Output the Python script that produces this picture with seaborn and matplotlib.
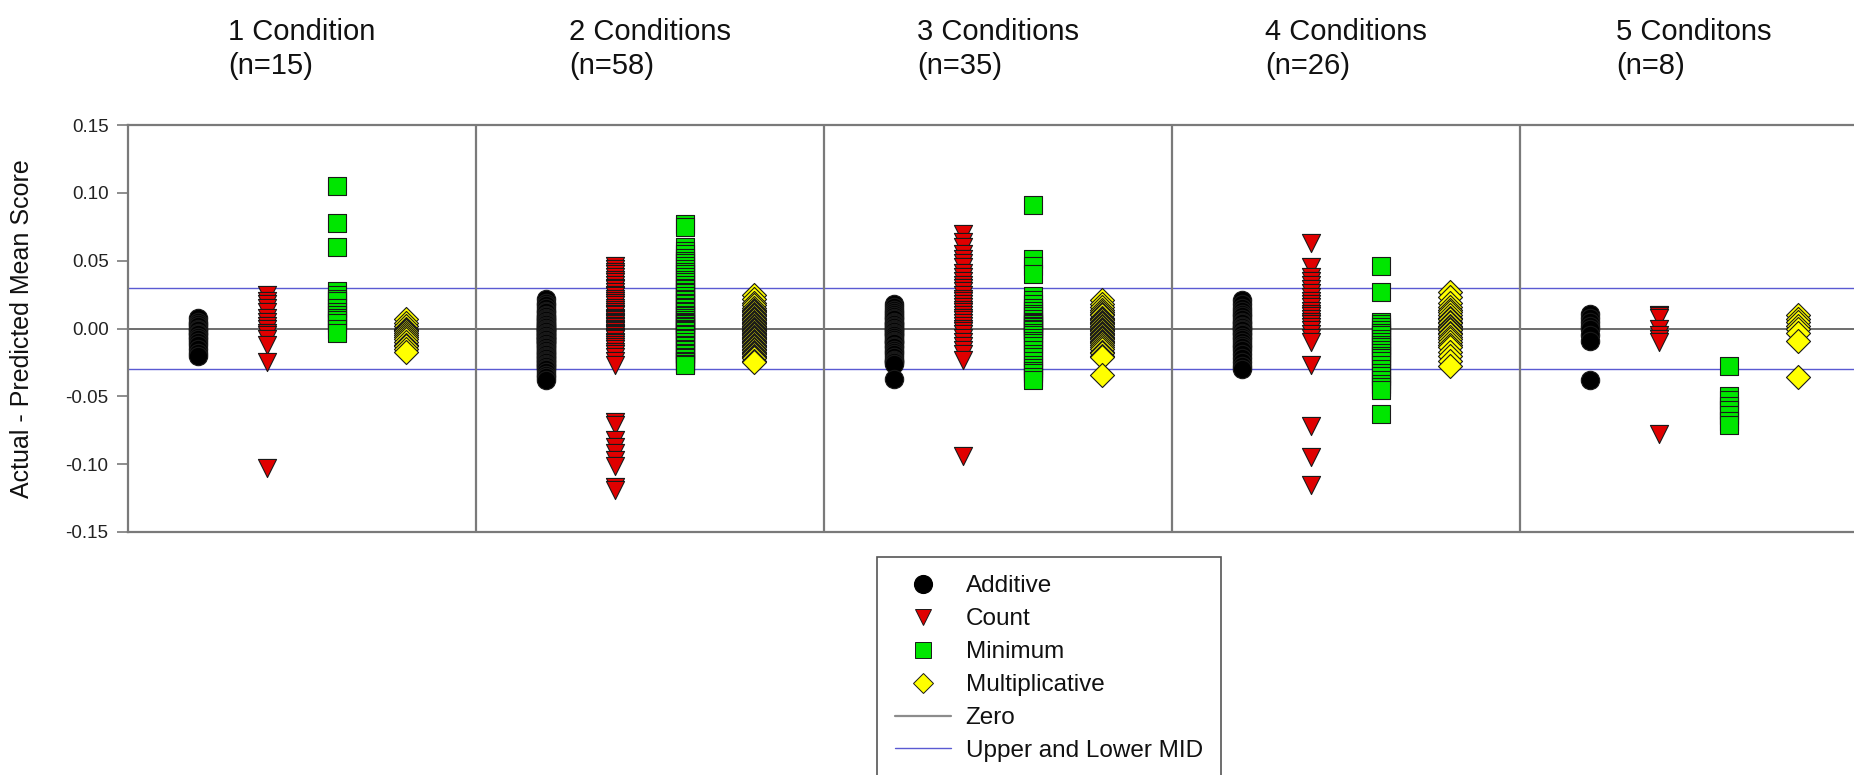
import matplotlib
matplotlib.use("Agg")
import matplotlib.pyplot as plt
import matplotlib.transforms as mtransforms
from matplotlib.lines import Line2D
import pandas as pd
import seaborn as sns

# ---------------------------------------------------------------- data
panels = ["1 Condition", "2 Conditions", "3 Conditions", "4 Conditions", "5 Conditons"]
panel_n = [15, 58, 35, 26, 8]
methods = ["Additive", "Count", "Minimum", "Multiplicative"]

additive = [
    [0.008, 0.005, 0.003, 0.002, 0.000, -0.001, -0.003, -0.004, -0.006, -0.008,
     -0.010, -0.012, -0.015, -0.018, -0.020],
    [0.022, 0.019, 0.017, 0.015, 0.013, 0.012, 0.010, 0.009, 0.008, 0.007,
     0.006, 0.005, 0.004, 0.003, 0.002, 0.002, 0.001, 0.000, 0.000, -0.001,
     -0.002, -0.002, -0.003, -0.004, -0.004, -0.005, -0.006, -0.006, -0.007, -0.008,
     -0.008, -0.009, -0.010, -0.010, -0.011, -0.012, -0.013, -0.014, -0.015, -0.016,
     -0.017, -0.018, -0.019, -0.020, -0.021, -0.022, -0.023, -0.024, -0.025, -0.026,
     -0.027, -0.028, -0.029, -0.030, -0.032, -0.034, -0.036, -0.038],
    [0.018, 0.016, 0.014, 0.012, 0.011, 0.009, 0.008, 0.007, 0.005, 0.004,
     0.003, 0.002, 0.001, 0.000, -0.001, -0.002, -0.003, -0.004, -0.005, -0.006,
     -0.008, -0.009, -0.010, -0.011, -0.013, -0.014, -0.016, -0.017, -0.019, -0.021,
     -0.023, -0.024, -0.025, -0.026, -0.037],
    [0.021, 0.018, 0.015, 0.013, 0.011, 0.009, 0.007, 0.005, 0.004, 0.002,
     0.001, 0.000, -0.001, -0.003, -0.004, -0.006, -0.008, -0.010, -0.012, -0.014,
     -0.016, -0.019, -0.022, -0.025, -0.028, -0.030],
    [0.011, 0.008, 0.005, 0.002, 0.000, -0.005, -0.009, -0.038],
]

count = [
    [0.025, 0.020, 0.018, 0.015, 0.012, 0.008, 0.005, 0.002, 0.000, -0.003,
     -0.005, -0.008, -0.012, -0.025, -0.103],
    [0.046, 0.044, 0.042, 0.040, 0.038, 0.036, 0.034, 0.032, 0.030, 0.029,
     0.027, 0.025, 0.024, 0.022, 0.020, 0.019, 0.017, 0.015, 0.014, 0.012,
     0.011, 0.010, 0.008, 0.007, 0.006, 0.005, 0.004, 0.003, 0.002, 0.001,
     0.000, -0.001, -0.002, -0.003, -0.004, -0.005, -0.006, -0.007, -0.008, -0.010,
     -0.011, -0.012, -0.014, -0.015, -0.017, -0.019, -0.021, -0.024, -0.027,
     -0.069, -0.071, -0.082, -0.087, -0.092, -0.097, -0.101, -0.117, -0.119],
    [0.070, 0.064, 0.060, 0.055, 0.051, 0.048, 0.045, 0.041, 0.038, 0.035,
     0.032, 0.030, 0.028, 0.025, 0.022, 0.020, 0.018, 0.016, 0.014, 0.012,
     0.010, 0.008, 0.006, 0.004, 0.002, 0.000, -0.002, -0.004, -0.007, -0.010,
     -0.013, -0.016, -0.019, -0.023, -0.094],
    [0.063, 0.045, 0.038, 0.035, 0.032, 0.029, 0.026, 0.023, 0.020, 0.018,
     0.016, 0.013, 0.011, 0.009, 0.007, 0.005, 0.003, 0.001, -0.001, -0.004,
     -0.007, -0.010, -0.027, -0.072, -0.095, -0.115],
    [0.010, 0.009, 0.008, 0.000, -0.005, -0.008, -0.010, -0.078],
]

minimum = [
    [0.105, 0.078, 0.060, 0.028, 0.025, 0.022, 0.020, 0.015, 0.012, 0.010,
     0.008, 0.006, 0.004, 0.000, -0.003],
    [0.077, 0.075,
     0.060, 0.057, 0.055, 0.052, 0.050, 0.048, 0.046, 0.044, 0.042, 0.040,
     0.038, 0.036, 0.034, 0.032, 0.030, 0.029, 0.027, 0.026, 0.024, 0.022,
     0.021, 0.019, 0.018, 0.016, 0.015, 0.013, 0.012, 0.010, 0.009, 0.008,
     0.006, 0.005, 0.004, 0.003, 0.002, 0.001, 0.000, -0.001, -0.002, -0.004,
     -0.005, -0.007, -0.008, -0.010, -0.012, -0.013, -0.015, -0.016, -0.018, -0.019,
     -0.021, -0.022, -0.024, -0.025, -0.026, -0.027],
    [0.091, 0.051, 0.046, 0.040, 0.024, 0.021, 0.018, 0.015, 0.013, 0.011,
     0.009, 0.007, 0.005, 0.004, 0.003, 0.002, 0.001, 0.000, -0.001, -0.003,
     -0.005, -0.007, -0.009, -0.011, -0.013, -0.016, -0.019, -0.021, -0.024, -0.027,
     -0.029, -0.031, -0.033, -0.036, -0.038],
    [0.046, 0.027, 0.005, 0.003, 0.001, -0.001, -0.003, -0.005, -0.008, -0.010,
     -0.012, -0.014, -0.016, -0.018, -0.020, -0.022, -0.024, -0.027, -0.030, -0.033,
     -0.035, -0.038, -0.041, -0.043, -0.045, -0.063],
    [-0.028, -0.050, -0.053, -0.057, -0.060, -0.064, -0.068, -0.071],
]

multiplicative = [
    [0.007, 0.004, 0.002, 0.000, -0.001, -0.002, -0.003, -0.005, -0.006, -0.008,
     -0.010, -0.012, -0.013, -0.015, -0.017],
    [0.025, 0.022, 0.019, 0.017, 0.015, 0.014, 0.013, 0.012, 0.011, 0.010,
     0.009, 0.008, 0.007, 0.006, 0.006, 0.005, 0.004, 0.004, 0.003, 0.002,
     0.002, 0.001, 0.001, 0.000, 0.000, -0.001, -0.001, -0.002, -0.002, -0.003,
     -0.003, -0.004, -0.004, -0.005, -0.005, -0.006, -0.006, -0.007, -0.007, -0.008,
     -0.008, -0.009, -0.010, -0.010, -0.011, -0.012, -0.013, -0.014, -0.015, -0.016,
     -0.017, -0.018, -0.019, -0.020, -0.021, -0.022, -0.024, -0.025],
    [0.021, 0.018, 0.016, 0.014, 0.012, 0.011, 0.010, 0.008, 0.007, 0.006,
     0.005, 0.004, 0.003, 0.002, 0.001, 0.000, -0.001, -0.002, -0.003, -0.004,
     -0.005, -0.006, -0.007, -0.008, -0.009, -0.010, -0.011, -0.012, -0.014, -0.015,
     -0.017, -0.018, -0.020, -0.021, -0.034],
    [0.027, 0.023, 0.019, 0.016, 0.014, 0.012, 0.010, 0.008, 0.007, 0.005,
     0.004, 0.002, 0.001, 0.000, -0.001, -0.003, -0.004, -0.006, -0.008, -0.010,
     -0.012, -0.014, -0.017, -0.020, -0.024, -0.028],
    [0.010, 0.007, 0.005, 0.002, 0.000, -0.003, -0.009, -0.036],
]

zero_level = 0.0
mid_level = 0.03
y_ticks = [0.15, 0.10, 0.05, 0.00, -0.05, -0.10, -0.15]

# ---------------------------------------------------------------- styling
marker_style = {
    "Additive":       dict(marker="o", color="#000000", s=175),
    "Count":          dict(marker="v", color="#e00000", s=170),
    "Minimum":        dict(marker="s", color="#00e600", s=150),
    "Multiplicative": dict(marker="D", color="#ffff00", s=150),
}
slot = {"Additive": 0.2, "Count": 0.4, "Minimum": 0.6, "Multiplicative": 0.8}
frame_color = "#7a7a7a"
zero_color = "#555555"
mid_color = "#5a5ad2"

sns.set_style("white")
plt.rcParams["font.family"] = ["Liberation Sans", "DejaVu Sans"]
plt.rcParams["axes.unicode_minus"] = False

# long-form table: one row per observation
rows = []
for method, series in zip(methods, [additive, count, minimum, multiplicative]):
    for p, vals in enumerate(series):
        for v in vals:
            rows.append({"panel": p, "method": method, "value": v})
df = pd.DataFrame(rows)
df["x"] = df["panel"] + df["method"].map(slot)

W, H = 1854, 775
fig = plt.figure(figsize=(W / 100, H / 100), dpi=100)
ax = fig.add_axes([128 / W, 1 - 532 / H, 1740 / W, 407 / H])

# reference lines
ax.axhline(zero_level, color=zero_color, lw=1.2, zorder=1)
ax.axhline(mid_level, color=mid_color, lw=1.0, zorder=1)
ax.axhline(-mid_level, color=mid_color, lw=1.0, zorder=1)
for b in range(1, len(panels)):
    ax.axvline(b, color=frame_color, lw=1.6, zorder=1)

for method in methods:
    st = marker_style[method]
    sns.scatterplot(data=df[df["method"] == method], x="x", y="value",
                    marker=st["marker"], color=st["color"], s=st["s"],
                    edgecolor="#1a1a1a", linewidth=0.8, ax=ax, zorder=3,
                    legend=False)

ax.set_xlim(0, len(panels))
ax.set_ylim(-0.15, 0.15)
ax.set_xticks([])
ax.set_xlabel("")
ax.set_yticks(y_ticks)
ax.set_yticklabels([f"{t:.2f}" for t in y_ticks])
ax.tick_params(axis="y", direction="out", length=8, width=1.2, color=frame_color,
               labelsize=13.5, labelcolor="#222222", pad=6, left=True)
for sp in ax.spines.values():
    sp.set_visible(True)
    sp.set_color(frame_color)
    sp.set_linewidth(1.6)

ax.set_ylabel("Actual - Predicted Mean Score", fontsize=18, color="#111111")
ax.yaxis.set_label_coords(-(128 - 22.5) / 1740, 0.5)
ax.yaxis.label.set_va("center")

# panel headers
trans = mtransforms.blended_transform_factory(ax.transData, fig.transFigure)
for p, (name, n) in enumerate(zip(panels, panel_n)):
    ax.text(p + 0.5, 1 - 49 / H, f"{name}\n(n={n})", transform=trans,
            ha="center", va="center", multialignment="left",
            fontsize=21, linespacing=1.25, color="#111111")

# legend
handles = [
    Line2D([], [], ls="none", marker="o", markersize=12.8, mfc="#000000", mec="#000000"),
    Line2D([], [], ls="none", marker="v", markersize=12.0, mfc="#e00000", mec="#1a1a1a", mew=0.7),
    Line2D([], [], ls="none", marker="s", markersize=11.2, mfc="#00e600", mec="#1a1a1a", mew=0.7),
    Line2D([], [], ls="none", marker="D", markersize=10.2, mfc="#ffff00", mec="#1a1a1a", mew=0.7),
    Line2D([], [], color="#8c8c8c", lw=1.6),
    Line2D([], [], color=mid_color, lw=1.0),
]
labels = methods + ["Zero", "Upper and Lower MID"]
leg = fig.legend(handles, labels, loc="upper left",
                 bbox_to_anchor=(877 / W, 1 - 557 / H), borderaxespad=0,
                 fontsize=17.5, frameon=True, fancybox=False, shadow=False,
                 borderpad=0.75, handlelength=2.3, handletextpad=0.6,
                 labelspacing=0.45)
leg.get_frame().set_edgecolor("#555555")
leg.get_frame().set_linewidth(1.2)
leg.get_frame().set_alpha(1)
for t in leg.get_texts():
    t.set_color("#111111")

fig.savefig("out.png", dpi=100)
